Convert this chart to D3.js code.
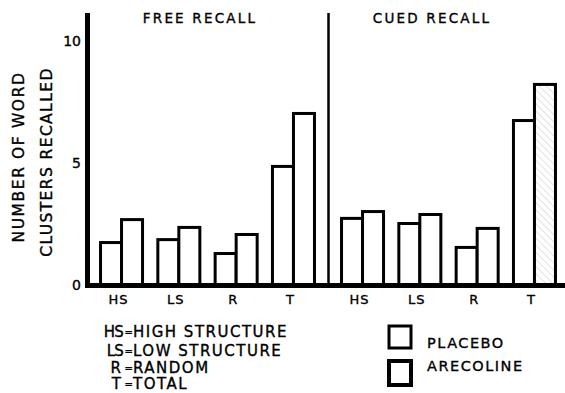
<!DOCTYPE html>
<meta charset="utf-8">
<style>
  body { margin: 0; background: #fff; }
  text { font-family: "DejaVu Sans", sans-serif; fill: #000; stroke: #000; stroke-width: 0.35px; }
</style>
<body>

<div class="chart"></div>

<script src="https://d3js.org/d3.v7.min.js"></script>

<script>

// data
var panels = ["FREE RECALL", "CUED RECALL"];
var categories = ["HS", "LS", "R", "T"];
var series = ["PLACEBO", "ARECOLINE"];
var freePlacebo = [1.74, 1.86, 1.29, 4.86];
var freeArecoline = [2.68, 2.36, 2.07, 7.03];
var cuedPlacebo = [2.73, 2.52, 1.54, 6.74];
var cuedArecoline = [3.01, 2.89, 2.32, 8.22];
var yTicks = [0, 5, 10];
var keyAbbr = ["HS", "LS", "R", "T"];
var keyText = ["HIGH STRUCTURE", "LOW STRUCTURE", "RANDOM", "TOTAL"];
// the one bar drawn with hatching in the original
var hatched = [{panel: "CUED RECALL", cat: "T", series: "ARECOLINE"}];

var width = 565, height = 393;

// build rows for the bars
var values = {
  "FREE RECALL": {PLACEBO: freePlacebo, ARECOLINE: freeArecoline},
  "CUED RECALL": {PLACEBO: cuedPlacebo, ARECOLINE: cuedArecoline}
};
var bars = [];
panels.forEach(function(p) {
  categories.forEach(function(c, i) {
    series.forEach(function(s) {
      bars.push({panel: p, cat: c, series: s, value: values[p][s][i]});
    });
  });
});

var svg = d3.select(".chart").append("svg")
    .attr("width", width)
    .attr("height", height);

// hatch pattern
var pat = svg.append("defs").append("pattern")
    .attr("id", "hatch")
    .attr("patternUnits", "userSpaceOnUse")
    .attr("width", 5)
    .attr("height", 5)
    .attr("patternTransform", "rotate(-45)");
pat.append("rect").attr("width", 5).attr("height", 5).attr("fill", "#fff");
pat.append("line")
    .attr("x1", 0).attr("y1", 0).attr("x2", 0).attr("y2", 5)
    .attr("stroke", "#c4c4c4")
    .attr("stroke-width", 1);

// scales
var y = d3.scaleLinear().domain([0, 10]).range([285, 41]);

var panelRange = {"FREE RECALL": [87, 328], "CUED RECALL": [328, 569]};
var x = {};
panels.forEach(function(p) {
  x[p] = d3.scaleBand()
      .domain(categories)
      .range(panelRange[p])
      .paddingInner(0.267)
      .paddingOuter(0.236);
});
var xs = d3.scaleBand().domain(series).range([0, x["FREE RECALL"].bandwidth()]);

function isHatched(d) {
  return hatched.some(function(h) {
    return h.panel === d.panel && h.cat === d.cat && h.series === d.series;
  });
}

// bars
svg.selectAll(".bar")
    .data(bars)
  .enter().append("rect")
    .attr("class", "bar")
    .attr("x", function(d) { return x[d.panel](d.cat) + xs(d.series); })
    .attr("y", function(d) { return y(d.value); })
    .attr("width", xs.bandwidth())
    .attr("height", function(d) { return y(0) - y(d.value); })
    .attr("fill", function(d) { return isHatched(d) ? "url(#hatch)" : "#fff"; })
    .attr("stroke", "#000")
    .attr("stroke-width", 3);

// y axis line
svg.append("line")
    .attr("x1", 87.5).attr("x2", 87.5)
    .attr("y1", 13).attr("y2", 287)
    .attr("stroke", "#000")
    .attr("stroke-width", 5);

// divider between panels
svg.append("line")
    .attr("x1", 328.5).attr("x2", 328.5)
    .attr("y1", 13).attr("y2", 285)
    .attr("stroke", "#000")
    .attr("stroke-width", 2.5);

// baseline
svg.append("line")
    .attr("x1", 85).attr("x2", width)
    .attr("y1", y(0) + 0.5).attr("y2", y(0) + 0.5)
    .attr("stroke", "#000")
    .attr("stroke-width", 5);

// y tick labels
svg.selectAll(".ytick")
    .data(yTicks)
  .enter().append("text")
    .attr("class", "ytick")
    .attr("x", 81)
    .attr("y", function(d) { return y(d) + 5; })
    .style("text-anchor", "end")
    .attr("font-size", "14px")
    .text(function(d) { return d; });

// y axis title, two lines
svg.append("text")
    .attr("transform", "translate(24,157) rotate(-90)")
    .style("text-anchor", "middle")
    .attr("font-size", "15.5px")
    .attr("letter-spacing", "1.6px")
    .text("NUMBER OF WORD");
svg.append("text")
    .attr("transform", "translate(52,162) rotate(-90)")
    .style("text-anchor", "middle")
    .attr("font-size", "15.5px")
    .attr("letter-spacing", "1.4px")
    .text("CLUSTERS RECALLED");

// panel titles
var titleX = [200, 432];
svg.selectAll(".ptitle")
    .data(panels)
  .enter().append("text")
    .attr("class", "ptitle")
    .attr("x", function(d, i) { return titleX[i]; })
    .attr("y", 23)
    .style("text-anchor", "middle")
    .attr("font-size", "13.5px")
    .attr("letter-spacing", "2.2px")
    .text(function(d) { return d; });

// category labels under each group
panels.forEach(function(p, k) {
  svg.selectAll(".xlab" + k)
      .data(categories)
    .enter().append("text")
      .attr("class", "xlab" + k)
      .attr("x", function(d) { return x[p](d) + x[p].bandwidth() / 2 - 3; })
      .attr("y", 304)
      .style("text-anchor", "middle")
      .attr("font-size", "13px")
      .attr("letter-spacing", "1px")
      .text(function(d) { return d; });
});

// abbreviation key
var keyRowsY = [337, 355.5, 372.5, 389];
var abbrEnd = [123, 123, 120, 120];
keyAbbr.forEach(function(a, i) {
  svg.append("text")
      .attr("x", abbrEnd[i]).attr("y", keyRowsY[i])
      .style("text-anchor", "end")
      .attr("font-size", "15px")
      .attr("letter-spacing", "-0.8px")
      .text(a);
  svg.append("text")
      .attr("x", 124.5).attr("y", keyRowsY[i] - 1)
      .attr("font-size", "10px")
      .text("=");
  svg.append("text")
      .attr("x", 133).attr("y", keyRowsY[i])
      .attr("font-size", "15px")
      .attr("letter-spacing", "1.5px")
      .text(keyText[i]);
});

// legend
var legY = [326, 361];
var leg = svg.selectAll(".leg")
    .data(series)
  .enter().append("g")
    .attr("class", "leg")
    .attr("transform", function(d, i) { return "translate(389," + legY[i] + ")"; });
leg.append("rect")
    .attr("width", 22)
    .attr("height", function(d, i) { return i ? 24 : 22; })
    .attr("fill", "#fff")
    .attr("stroke", "#000")
    .attr("stroke-width", function(d, i) { return i ? 4 : 3; });
leg.append("text")
    .attr("x", 38)
    .attr("y", function(d, i) { return i ? 10 : 22; })
    .attr("font-size", "14.5px")
    .attr("letter-spacing", "1.5px")
    .text(function(d) { return d; });

</script>

</body>
